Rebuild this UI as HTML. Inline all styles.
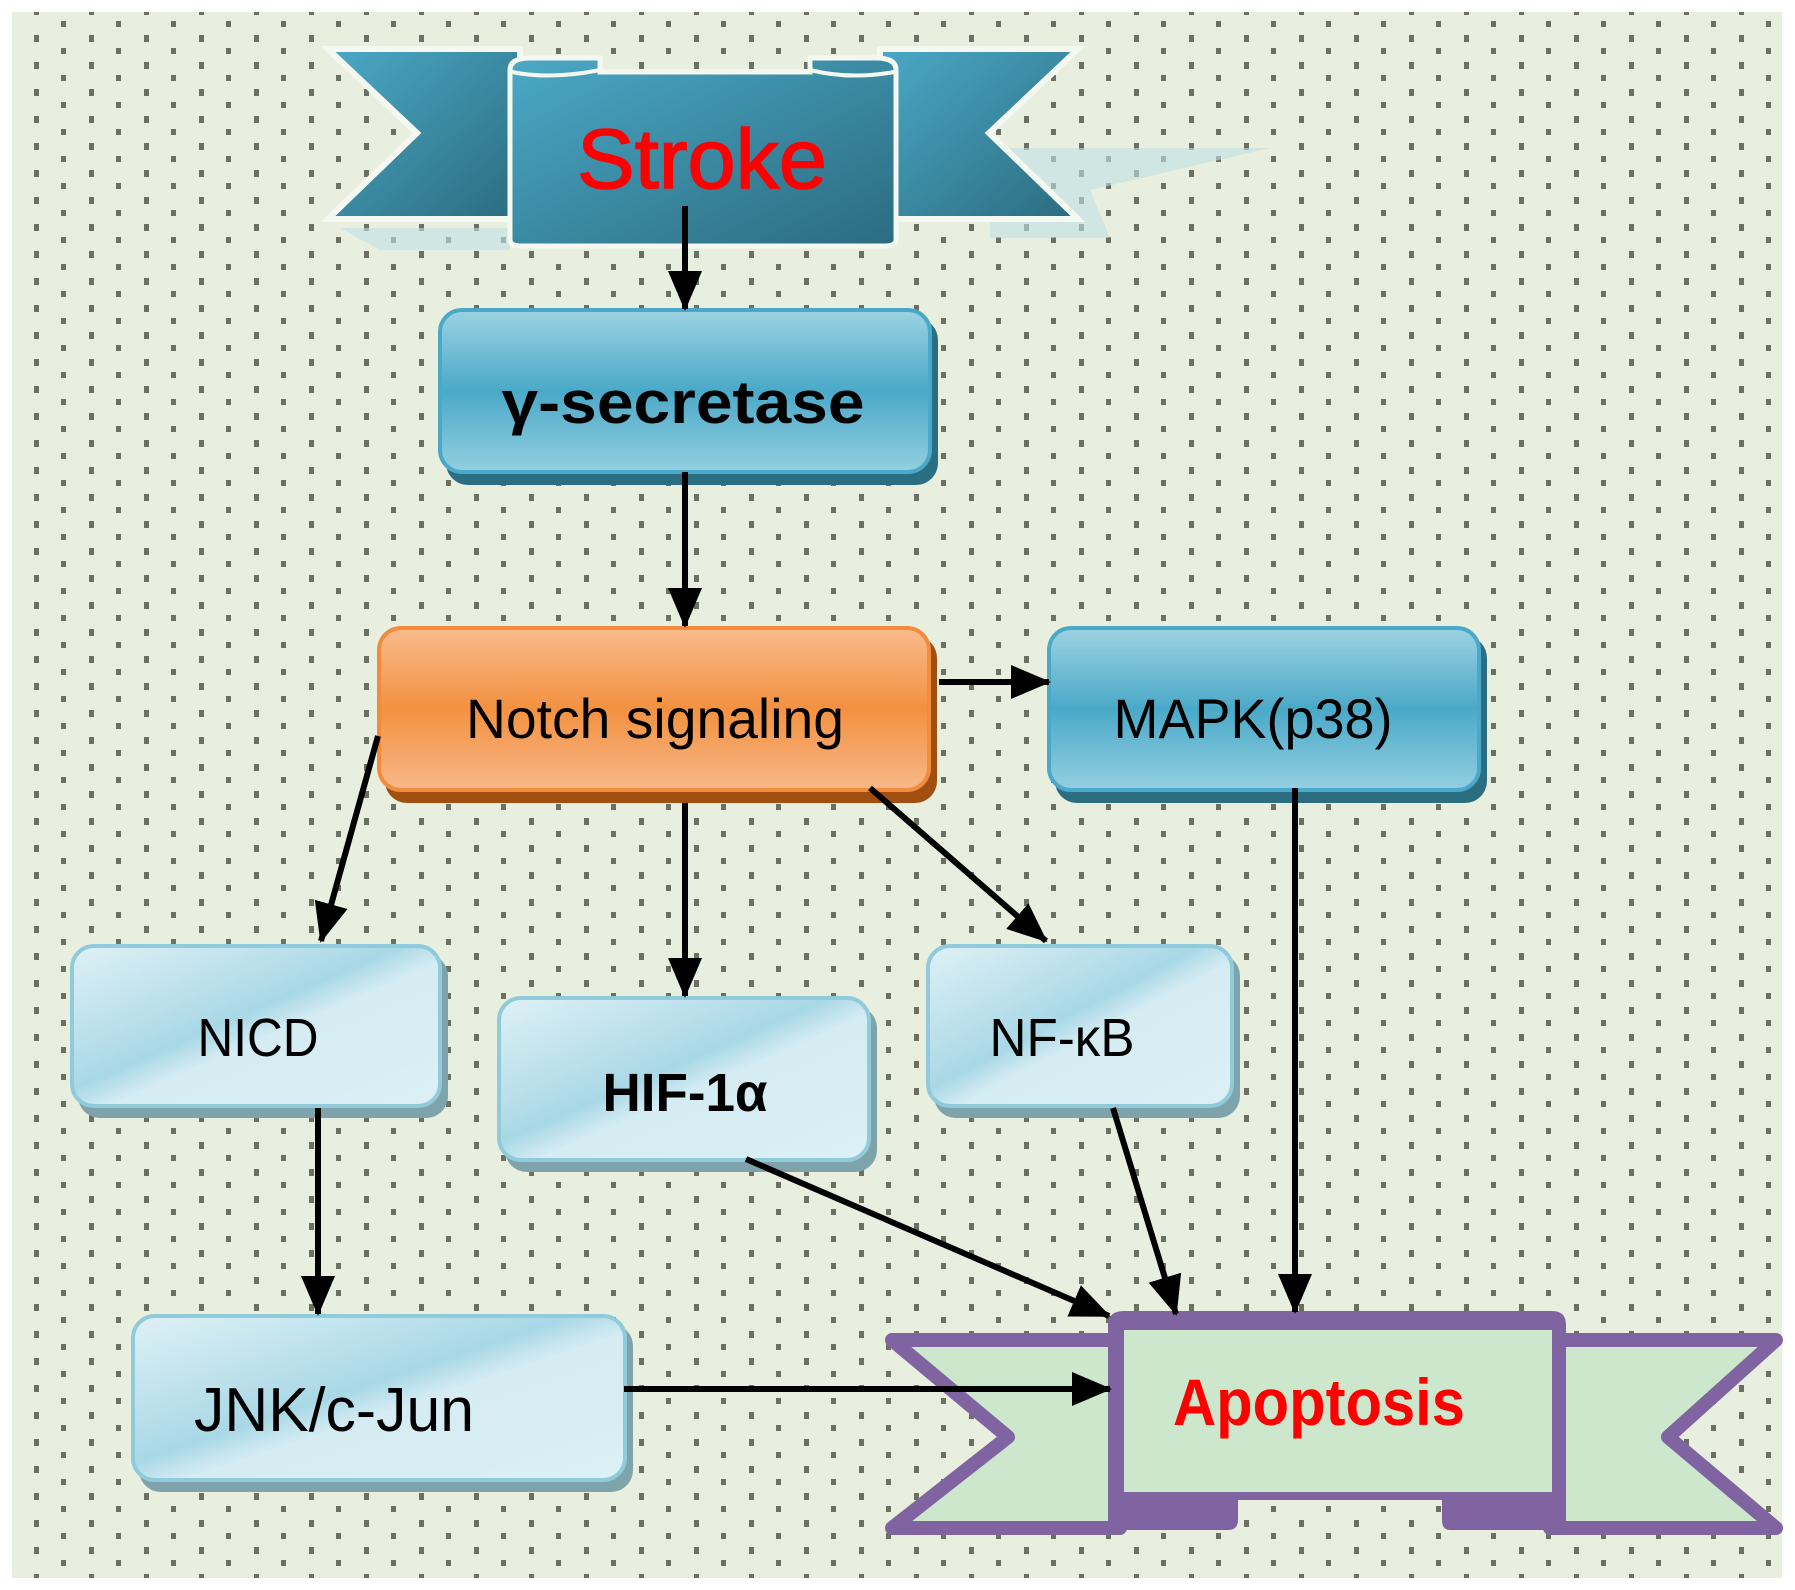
<!DOCTYPE html>
<html><head><meta charset="utf-8"><style>
html,body{margin:0;padding:0;background:#fff;}
svg{display:block}
text{font-family:"Liberation Sans",sans-serif}
</style></head><body>
<svg width="1795" height="1590" viewBox="0 0 1795 1590" xmlns="http://www.w3.org/2000/svg">
<defs>
<pattern id="dots" patternUnits="userSpaceOnUse" x="0" y="0" width="55" height="27">
<rect x="34" y="8" width="5" height="7" fill="#6b7063"/>
<rect x="6" y="21" width="5" height="7" fill="#6b7063"/>
</pattern>
<linearGradient id="teal" x1="0" y1="0" x2="1" y2="1">
<stop offset="0" stop-color="#4ba9c7"/><stop offset="1" stop-color="#2b6b7f"/></linearGradient>
<linearGradient id="blueBox" x1="0" y1="0" x2="0" y2="1">
<stop offset="0" stop-color="#9dd2e2"/><stop offset="0.5" stop-color="#4aa9c8"/><stop offset="1" stop-color="#94cfe0"/></linearGradient>
<linearGradient id="orangeBox" x1="0" y1="0" x2="0" y2="1">
<stop offset="0" stop-color="#f9bb8d"/><stop offset="0.5" stop-color="#f39140"/><stop offset="1" stop-color="#f8b88a"/></linearGradient>
<linearGradient id="light" x1="0" y1="0" x2="1" y2="1">
<stop offset="0" stop-color="#dff1f6"/><stop offset="0.45" stop-color="#a9d8e6"/><stop offset="0.55" stop-color="#d5ecf3"/><stop offset="1" stop-color="#dcf0f5"/></linearGradient>
<marker id="ah" markerUnits="userSpaceOnUse" markerWidth="40" markerHeight="34" refX="38" refY="17" orient="auto">
<path d="M0,0 L40,17 L0,34 Z" fill="#000"/></marker>
</defs>
<rect x="12" y="12" width="1770" height="1566" fill="#e9efdf"/>
<rect x="12" y="12" width="1770" height="1566" fill="url(#dots)"/>

<!-- Stroke banner -->
<polygon points="990,148 1270,148 1090,190 1110,238 990,238" fill="#bfe0e4" opacity="0.6"/>
<polygon points="340,228 510,228 510,250 380,250" fill="#bfe0e4" opacity="0.6"/>
<polygon points="328,49 520,49 520,219 328,219 417,133" fill="url(#teal)" stroke="#f4f8f0" stroke-width="6"/>
<polygon points="1078,49 880,49 880,219 1078,219 989,133" fill="url(#teal)" stroke="#f4f8f0" stroke-width="6"/>
<path d="M510,70 Q510,58 530,58 L600,58 L600,72 L810,72 L810,58 L876,58 Q896,58 896,70 L896,240 Q896,246 884,246 L522,246 Q510,246 510,240 Z" fill="url(#teal)" stroke="#f4f8f0" stroke-width="5"/>
<path d="M512,72 Q550,80 600,70" fill="none" stroke="#f4f8f0" stroke-width="4"/>
<path d="M810,70 Q850,80 894,72" fill="none" stroke="#f4f8f0" stroke-width="4"/>
<text x="702" y="188" font-size="84" fill="#ff0000" stroke="#ff0000" stroke-width="1.5" text-anchor="middle" textLength="250" lengthAdjust="spacingAndGlyphs">Stroke</text>

<!-- gamma-secretase -->
<rect x="446" y="318" width="492" height="167" rx="22" fill="#2b6e82"/>
<rect x="440" y="310" width="490" height="162" rx="22" fill="url(#blueBox)" stroke="#4aa9c8" stroke-width="4"/>
<text x="683" y="423" font-size="60" font-weight="bold" font-family="Liberation Serif,serif" text-anchor="middle" textLength="363" lengthAdjust="spacingAndGlyphs" fill="#000">γ-secretase</text>

<!-- Notch -->
<rect x="385" y="636" width="552" height="167" rx="22" fill="#a04f10"/>
<rect x="379" y="628" width="550" height="162" rx="22" fill="url(#orangeBox)" stroke="#f28c3c" stroke-width="4"/>
<text x="655" y="738" font-size="56" text-anchor="middle" textLength="378" lengthAdjust="spacingAndGlyphs" fill="#000">Notch signaling</text>

<!-- MAPK -->
<rect x="1055" y="636" width="432" height="167" rx="22" fill="#2b6e82"/>
<rect x="1049" y="628" width="430" height="162" rx="22" fill="url(#blueBox)" stroke="#4aa9c8" stroke-width="4"/>
<text x="1253" y="738" font-size="56" text-anchor="middle" textLength="279" lengthAdjust="spacingAndGlyphs" fill="#000">MAPK(p38)</text>

<!-- NICD -->
<rect x="78" y="954" width="370" height="164" rx="22" fill="#7fa3aa"/>
<rect x="72" y="946" width="368" height="160" rx="22" fill="url(#light)" stroke="#90cbdc" stroke-width="4"/>
<text x="258" y="1056" font-size="54" text-anchor="middle" textLength="121" lengthAdjust="spacingAndGlyphs" fill="#000">NICD</text>

<!-- HIF -->
<rect x="505" y="1006" width="372" height="166" rx="22" fill="#7fa3aa"/>
<rect x="499" y="998" width="370" height="162" rx="22" fill="url(#light)" stroke="#90cbdc" stroke-width="4"/>
<text x="685" y="1111" font-size="54" font-weight="bold" text-anchor="middle" textLength="165" lengthAdjust="spacingAndGlyphs" fill="#000">HIF-1α</text>

<!-- NF-kB -->
<rect x="934" y="954" width="306" height="164" rx="22" fill="#7fa3aa"/>
<rect x="928" y="946" width="304" height="160" rx="22" fill="url(#light)" stroke="#90cbdc" stroke-width="4"/>
<text x="1062" y="1056" font-size="54" text-anchor="middle" textLength="145" lengthAdjust="spacingAndGlyphs" fill="#000">NF-κB</text>

<!-- JNK -->
<rect x="139" y="1324" width="494" height="168" rx="22" fill="#7fa3aa"/>
<rect x="133" y="1316" width="492" height="164" rx="22" fill="url(#light)" stroke="#90cbdc" stroke-width="4"/>
<text x="334" y="1431" font-size="62" text-anchor="middle" textLength="280" lengthAdjust="spacingAndGlyphs" fill="#000">JNK/c-Jun</text>

<!-- Apoptosis banner -->
<polygon points="892,1340 1120,1340 1120,1528 892,1528 1008,1437" fill="#cde7cd" stroke="#8064a2" stroke-width="14" stroke-linejoin="round"/>
<polygon points="1776,1340 1550,1340 1550,1528 1776,1528 1668,1437" fill="#cde7cd" stroke="#8064a2" stroke-width="14" stroke-linejoin="round"/>
<path d="M1108,1325 Q1108,1311 1124,1311 L1552,1311 Q1566,1311 1566,1325 L1566,1520 Q1566,1530 1554,1530 L1450,1530 Q1442,1530 1442,1520 L1442,1500 L1238,1500 L1238,1520 Q1238,1530 1228,1530 L1120,1530 Q1108,1530 1108,1520 Z" fill="#8064a2"/>
<rect x="1124" y="1330" width="428" height="162" fill="#cde7cd"/>
<text x="1319" y="1425" font-size="66" font-weight="bold" fill="#ff0000" text-anchor="middle" textLength="292" lengthAdjust="spacingAndGlyphs">Apoptosis</text>

<!-- arrows -->
<g stroke="#000" stroke-width="6" fill="none" marker-end="url(#ah)">
<line x1="685" y1="206" x2="685" y2="309"/>
<line x1="685" y1="472" x2="685" y2="626"/>
<line x1="939" y1="682" x2="1049" y2="682"/>
<line x1="378" y1="736" x2="321" y2="941"/>
<line x1="685" y1="803" x2="685" y2="996"/>
<line x1="870" y1="788" x2="1046" y2="941"/>
<line x1="1295" y1="788" x2="1295" y2="1312"/>
<line x1="318" y1="1108" x2="318" y2="1314"/>
<line x1="746" y1="1159" x2="1109" y2="1316"/>
<line x1="1113" y1="1108" x2="1176" y2="1314"/>
<line x1="624" y1="1389" x2="1110" y2="1389"/>
</g>
</svg>
</body></html>
